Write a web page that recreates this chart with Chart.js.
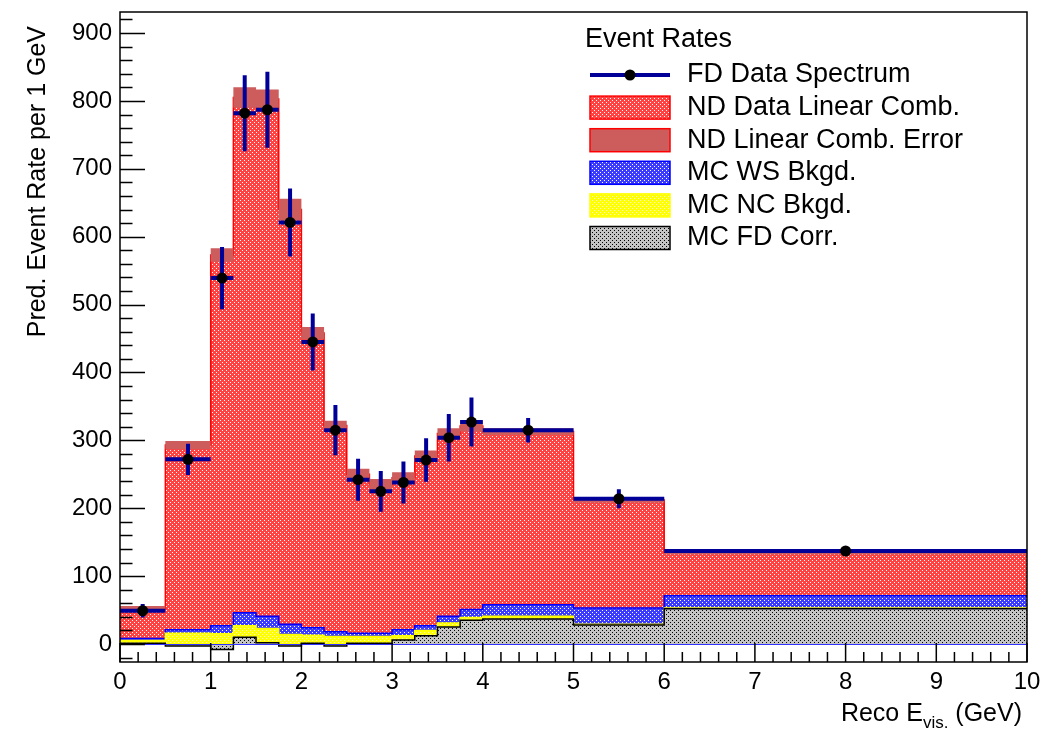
<!DOCTYPE html>
<html>
<head>
<meta charset="utf-8">
<script src="https://cdn.jsdelivr.net/npm/chart.js@4"></script>
<style>
  body { margin: 0; background: #fff; }
</style>
</head>
<body>
<canvas id="chart" width="1061" height="731"></canvas>
<script>
// bin edges (GeV)
const binEdges = [0, 0.5, 1, 1.25, 1.5, 1.75, 2, 2.25, 2.5, 2.75, 3, 3.25, 3.5, 3.75, 4, 5, 6, 10];

// FD data spectrum, per 1 GeV, with errors
const fdData = [49, 272, 539, 782, 787, 621, 445, 315, 242, 225, 238, 271, 304, 327, 315, 214, 137];
const fdErr  = [10, 23, 46, 56, 56, 50, 42, 37, 31, 30, 31, 32, 35, 36, 18, 14, 6];

// ND data linear combination and its error
const ndComb = [52, 293, 573, 805, 803, 640, 458, 322, 250, 235, 245, 277, 310, 321, 313, 212, 135];
const ndErr  = [4, 6, 10, 15, 14, 16, 9, 7, 8, 8, 8, 8, 8, 8, 5, 4, 3];

// MC backgrounds (as drawn, each from zero)
const mcWS = [8, 21, 27, 46, 41, 29, 24, 18, 16, 16, 21, 27, 41, 51, 58, 53, 71];
const mcNC = [5, 16, 15, 27, 23, 14, 13, 11, 11, 11, 12, 20, 31, 39, 41, 29, 53];
const mcFD = [1, -3, -8, 10, 2, -3, 1, -3, 1, 1, 6, 12, 25, 35, 37, 28, 52];

const xTicks = [0, 1, 2, 3, 4, 5, 6, 7, 8, 9, 10];
const yTicks = [0, 100, 200, 300, 400, 500, 600, 700, 800, 900];

const binCenters = fdData.map((v, i) => (binEdges[i] + binEdges[i + 1]) / 2);

// histogram as step points: value of point i runs to the next edge
function steps(vals) {
  const pts = vals.map((v, i) => ({ x: binEdges[i], y: v }));
  pts.push({ x: binEdges[binEdges.length - 1], y: vals[vals.length - 1] });
  return pts;
}

// dotted fill like ROOT's hatch styles
function makePattern(bg, fg) {
  const c = document.createElement('canvas');
  c.width = c.height = 4;
  const g = c.getContext('2d');
  g.fillStyle = bg;
  g.fillRect(0, 0, 4, 4);
  g.fillStyle = fg;
  g.fillRect(0, 0, 1, 1);
  g.fillRect(2, 2, 1, 1);
  return g.createPattern(c, 'repeat');
}

const redFill = makePattern('#ff4242', '#ffffff');
const blueFill = makePattern('#3c3cff', '#ffffff');
const yellowFill = makePattern('#ffff00', '#ffffff');
const grayFill = makePattern('#c4c4c4', '#000000');

const FONT = 'Liberation Sans, Arial, sans-serif';
Chart.defaults.font.family = FONT;
Chart.defaults.color = '#000';

const plotFrame = {
  id: 'plotFrame',
  beforeDatasetDraw(chart, args) {
    // error bars of the data points, under the markers
    if (args.index !== 0) return;
    const { ctx, scales: { x, y } } = chart;
    ctx.save();
    ctx.strokeStyle = '#000099';
    ctx.lineWidth = 4;
    fdData.forEach((v, i) => {
      const yv = y.getPixelForValue(v);
      const xc = x.getPixelForValue(binCenters[i]);
      ctx.beginPath();
      ctx.moveTo(x.getPixelForValue(binEdges[i]), yv);
      ctx.lineTo(x.getPixelForValue(binEdges[i + 1]), yv);
      ctx.moveTo(xc, y.getPixelForValue(v - fdErr[i]));
      ctx.lineTo(xc, y.getPixelForValue(v + fdErr[i]));
      ctx.stroke();
    });
    ctx.restore();
  },
  afterDatasetsDraw(chart) {
    const { ctx, chartArea: a, scales: { x, y } } = chart;
    ctx.save();
    // zero line
    ctx.strokeStyle = '#3030ff';
    ctx.lineWidth = 1;
    ctx.beginPath();
    ctx.moveTo(a.left, y.getPixelForValue(0) + 0.5);
    ctx.lineTo(a.right, y.getPixelForValue(0) + 0.5);
    ctx.stroke();

    ctx.strokeStyle = '#000';
    ctx.lineWidth = 1.5;
    ctx.strokeRect(a.left, a.top, a.right - a.left, a.bottom - a.top);
    ctx.beginPath();
    for (let v = -20; v <= 920; v += 20) {
      const py = Math.round(y.getPixelForValue(v)) + 0.5;
      const len = v % 100 === 0 ? 25 : 12.5;
      ctx.moveTo(a.left, py);
      ctx.lineTo(a.left + len, py);
    }
    for (let k = 0; k <= 50; k++) {
      const px = x.getPixelForValue(k * 0.2);
      const len = k % 5 === 0 ? 19 : 10;
      ctx.moveTo(px, a.bottom);
      ctx.lineTo(px, a.bottom - len);
    }
    ctx.stroke();
    ctx.restore();
  },
  afterDraw(chart) {
    const { ctx } = chart;
    ctx.save();
    ctx.fillStyle = '#000';

    // y title
    ctx.font = '25px ' + FONT;
    ctx.save();
    ctx.translate(38, 26);
    ctx.rotate(-Math.PI / 2);
    ctx.textAlign = 'right';
    ctx.textBaseline = 'middle';
    ctx.fillText('Pred. Event Rate per 1 GeV', 0, 0);
    ctx.restore();

    // x title with subscript
    const big = '25px ' + FONT, small = '17px ' + FONT;
    ctx.font = big;
    const w1 = ctx.measureText('Reco E').width;
    const w3 = ctx.measureText(' (GeV)').width;
    ctx.font = small;
    const w2 = ctx.measureText('vis.').width;
    const tx = 1022 - (w1 + w2 + w3);
    const base = 721;
    ctx.textBaseline = 'alphabetic';
    ctx.textAlign = 'left';
    ctx.font = big;
    ctx.fillText('Reco E', tx, base);
    ctx.font = small;
    ctx.fillText('vis.', tx + w1, base + 7);
    ctx.font = big;
    ctx.fillText(' (GeV)', tx + w1 + w2, base);

    // legend
    ctx.font = '27px ' + FONT;
    ctx.textBaseline = 'middle';
    ctx.fillText('Event Rates', 585, 40);
    const rows = chart.data.datasets.filter(d => d.legendRow !== undefined)
      .sort((p, q) => p.legendRow - q.legendRow);
    rows.forEach(d => {
      const cy = 75 + d.legendRow * 32.6;
      if (d.legendRow === 0) {
        ctx.strokeStyle = '#000099';
        ctx.lineWidth = 4;
        ctx.beginPath();
        ctx.moveTo(590, cy);
        ctx.lineTo(670, cy);
        ctx.stroke();
        ctx.fillStyle = '#000';
        ctx.beginPath();
        ctx.arc(630, cy, 5.5, 0, Math.PI * 2);
        ctx.fill();
      } else {
        ctx.fillStyle = d.backgroundColor;
        ctx.fillRect(590, cy - 11.5, 80, 23);
        ctx.strokeStyle = d.legendBorder || d.borderColor;
        ctx.lineWidth = 1.5;
        ctx.strokeRect(590, cy - 11.5, 80, 23);
      }
      ctx.fillStyle = '#000';
      ctx.fillText(d.label, 687, cy);
    });
    ctx.restore();
  }
};

const stepLine = { stepped: true, pointRadius: 0, tension: 0 };

new Chart('chart', {
  type: 'line',
  data: {
    datasets: [
      {
        label: 'FD Data Spectrum', legendRow: 0, order: 0,
        data: fdData.map((v, i) => ({ x: binCenters[i], y: v })),
        showLine: false, pointRadius: 5.5, pointBorderWidth: 0,
        pointBackgroundColor: '#000', borderColor: '#000099'
      },
      Object.assign({
        label: 'MC FD Corr.', legendRow: 5, order: 1, data: steps(mcFD),
        backgroundColor: grayFill, borderColor: '#000', borderWidth: 1.5, fill: 'origin'
      }, stepLine),
      Object.assign({
        label: 'MC NC Bkgd.', legendRow: 4, order: 2, data: steps(mcNC),
        backgroundColor: yellowFill, borderColor: '#ffff00', borderWidth: 1.5, fill: 'origin'
      }, stepLine),
      Object.assign({
        label: 'MC WS Bkgd.', legendRow: 3, order: 3, data: steps(mcWS),
        backgroundColor: blueFill, borderColor: '#0000ff', borderWidth: 1.5, fill: 'origin'
      }, stepLine),
      Object.assign({
        label: 'ND Linear Comb. Error', legendRow: 2, order: 4,
        data: steps(ndComb.map((v, i) => v + ndErr[i])),
        backgroundColor: '#cd5c5c', borderColor: 'rgba(0,0,0,0)', legendBorder: '#ff0000',
        borderWidth: 0, fill: '+1'
      }, stepLine),
      Object.assign({
        label: 'ND Linear Comb. Error (low)', order: 5,
        data: steps(ndComb.map((v, i) => v - ndErr[i])),
        borderColor: 'rgba(0,0,0,0)', borderWidth: 0, fill: false
      }, stepLine),
      Object.assign({
        label: 'ND Data Linear Comb.', legendRow: 1, order: 6, data: steps(ndComb),
        backgroundColor: redFill, borderColor: '#ff0000', borderWidth: 1.5, fill: 'origin'
      }, stepLine)
    ]
  },
  options: {
    responsive: false,
    animation: false,
    devicePixelRatio: 1,
    events: [],
    layout: { autoPadding: false, padding: { left: 0, top: 12, right: 34, bottom: 0 } },
    plugins: { legend: { display: false }, tooltip: { enabled: false } },
    scales: {
      x: {
        type: 'linear', min: 0, max: 10,
        afterBuildTicks: s => { s.ticks = xTicks.map(v => ({ value: v })); },
        afterFit: s => { s.height = 69; s.paddingLeft = 0; s.paddingRight = 0; },
        grid: { display: false, drawTicks: false },
        border: { display: false },
        ticks: { font: { size: 24 }, padding: 6, autoSkip: false, maxRotation: 0 }
      },
      y: {
        type: 'linear', min: -26.5, max: 931,
        afterBuildTicks: s => { s.ticks = yTicks.map(v => ({ value: v })); },
        afterFit: s => { s.width = 120; s.paddingTop = 0; s.paddingBottom = 0; },
        grid: { display: false, drawTicks: false },
        border: { display: false },
        ticks: { font: { size: 24 }, padding: 8, autoSkip: false }
      }
    }
  },
  plugins: [plotFrame]
});
</script>
</body>
</html>
